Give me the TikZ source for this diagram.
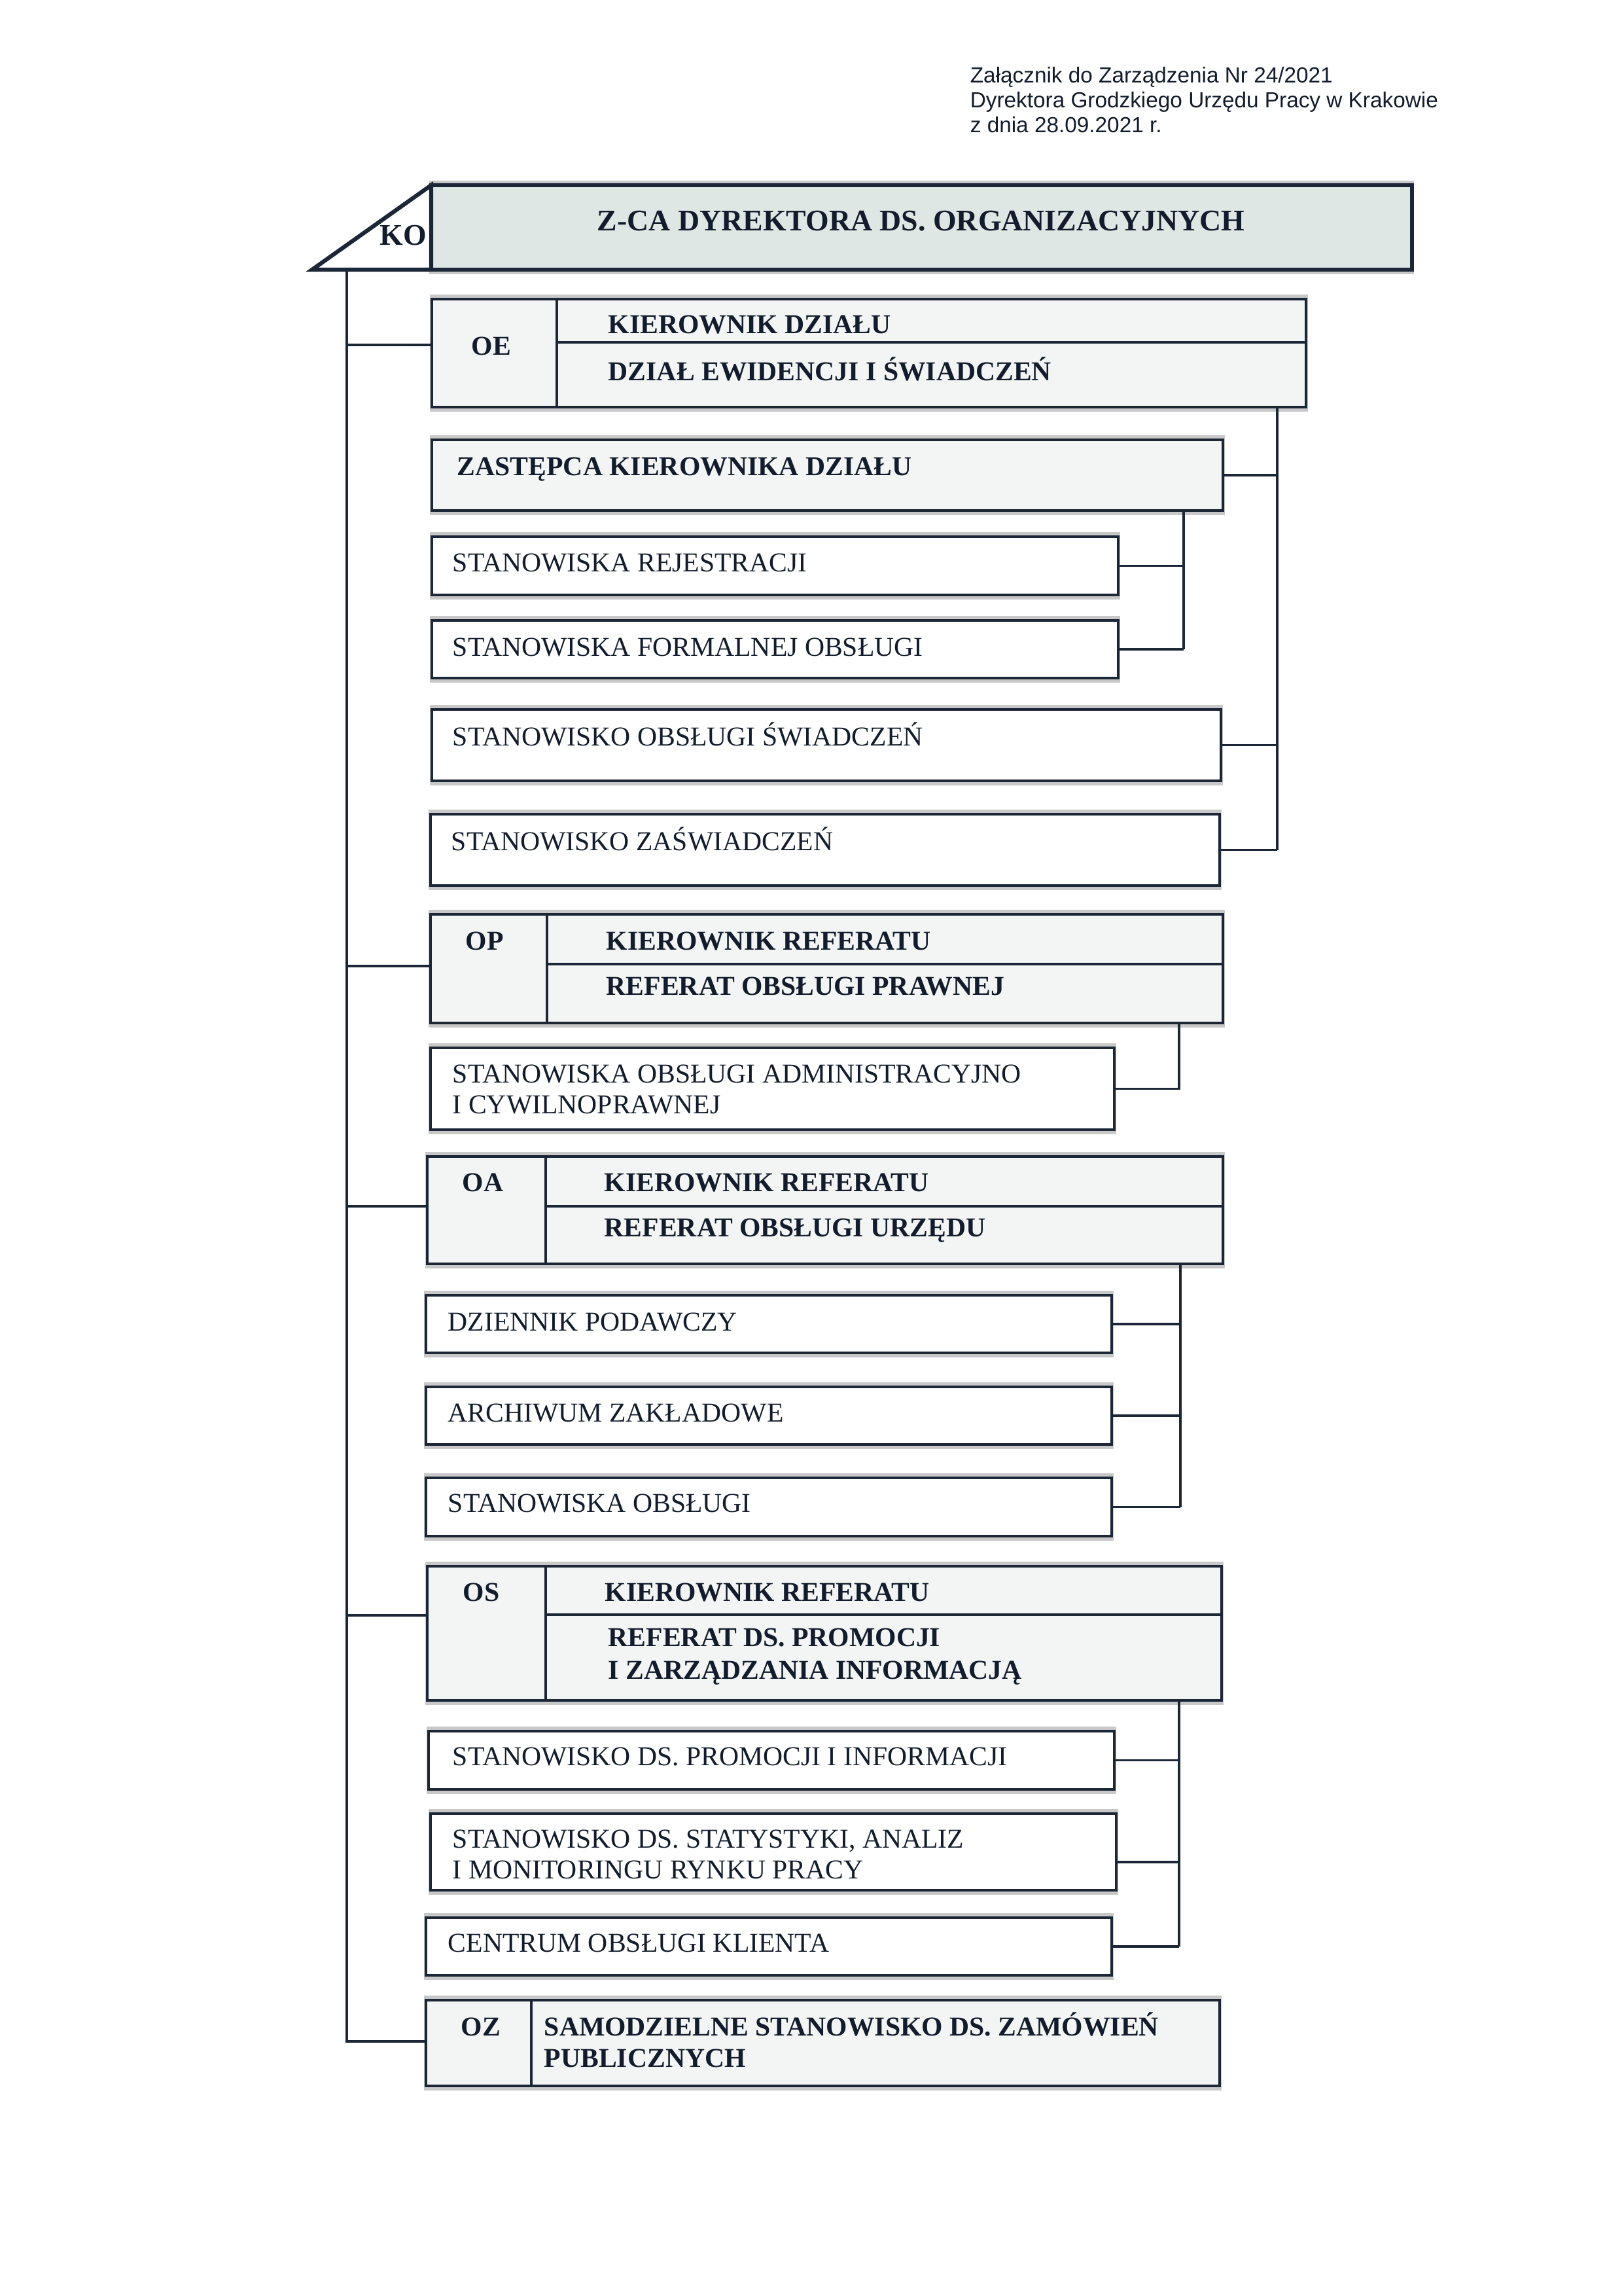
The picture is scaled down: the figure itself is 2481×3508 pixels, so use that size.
\documentclass[tikz,border=0pt]{standalone}
\usepackage{fontspec}
\setmainfont{Liberation Serif}
\newfontfamily\arialf{Liberation Sans}
\usetikzlibrary{calc}
\definecolor{lineC}{HTML}{1B2636}
\definecolor{textC}{HTML}{121C2C}
\definecolor{hdrFill}{HTML}{DFE7E4}
\definecolor{titFill}{HTML}{F3F5F4}
\definecolor{shadowC}{HTML}{C8C8C8}
\newcommand\mkbox[6]{%
  \fill[shadowC] (#3-3,#4-7) rectangle (#5+3,#6+7);
  \node[#2, minimum width={(#5-#3)*0.24pt}, minimum height={(#6-#4)*0.24pt}] (#1) at (#3,#4) {};
}
\begin{document}
\begin{tikzpicture}[x=0.24pt,y=-0.24pt,
  bx/.style={draw=lineC, line width=1pt, inner sep=0pt, outer sep=0pt, anchor=north west, fill=white},
  tbx/.style={bx, fill=titFill},
  hbx/.style={bx, fill=hdrFill, line width=1.5pt},
  conn/.style={draw=lineC, line width=0.9pt},
  divl/.style={draw=lineC, line width=0.8pt},
  tx/.style={anchor=base west, inner sep=0pt, text=textC, font=\fontsize{10}{12}\selectfont},
  btx/.style={tx, font=\fontsize{10}{12}\selectfont\bfseries},
  htx/.style={tx, font=\fontsize{11}{13}\selectfont\bfseries},
  stx/.style={tx, font=\arialf\fontsize{8}{9.24}\selectfont},
]
\useasboundingbox (0,0) rectangle (2481,3508);
\fill[white] (0,0) rectangle (2481,3508);

% header note
\node[stx] (n1) at (1482,127) {Załącznik do Zarządzenia Nr 24/2021};
\node[stx] (n2) at (1482,165) {Dyrektora Grodzkiego Urzędu Pracy w Krakowie};
\node[stx] (n3) at (1482,203) {z dnia 28.09.2021 r.};

% top box
\mkbox{hdr}{hbx}{659}{283}{2158}{412}
\filldraw[fill=white, draw=lineC, line width=1.5pt, line join=miter] (477,412) -- (659,283) -- (659,412) -- cycle;
\node[htx] (ko) at (580,375) {KO};
\node[htx] (hdrt) at (912,353) {Z-CA DYREKTORA DS. ORGANIZACYJNYCH};

% boxes
\mkbox{oe}{tbx}{660}{457}{1996}{622}
\mkbox{zast}{tbx}{660}{672}{1869}{780}
\mkbox{rej}{bx}{660}{820}{1709}{909}
\mkbox{form}{bx}{660}{948}{1709}{1036}
\mkbox{swiad}{bx}{660}{1084}{1866}{1193}
\mkbox{zasw}{bx}{658}{1244}{1864}{1353}
\mkbox{op}{tbx}{658}{1397}{1869}{1563}
\mkbox{adm}{bx}{658}{1601}{1703}{1726}
\mkbox{oa}{tbx}{653}{1767}{1869}{1931}
\mkbox{dzien}{bx}{651}{1979}{1699}{2067}
\mkbox{arch}{bx}{651}{2119}{1699}{2207}
\mkbox{obsl}{bx}{651}{2258}{1699}{2347}
\mkbox{os}{tbx}{653}{2393}{1867}{2598}
\mkbox{prom}{bx}{655}{2645}{1703}{2734}
\mkbox{stat}{bx}{658}{2771}{1706}{2888}
\mkbox{cent}{bx}{651}{2930}{1699}{3018}
\mkbox{oz}{tbx}{651}{3056}{1864}{3187}

% dividers inside titled boxes
\draw[divl] (851,457) -- (851,622);  \draw[divl] (851,523) -- (1996,523);
\draw[divl] (836,1397) -- (836,1563); \draw[divl] (836,1473) -- (1869,1473);
\draw[divl] (834,1767) -- (834,1931); \draw[divl] (834,1843) -- (1869,1843);
\draw[divl] (834,2393) -- (834,2598); \draw[divl] (834,2467) -- (1867,2467);
\draw[divl] (812,3056) -- (812,3187);

% trunk
\coordinate (trunk0) at (530,412);
\coordinate (tOE) at (530,527);
\coordinate (tOP) at (530,1476);
\coordinate (tOA) at (530,1843);
\coordinate (tOS) at (530,2468);
\coordinate (tOZ) at (530,3119);
\draw[conn, line width=1pt] (trunk0) -- (tOZ) -- (tOZ -| oz.west);
\draw[conn] (tOE) -- (tOE -| oe.west);
\draw[conn] (tOP) -- (tOP -| op.west);
\draw[conn] (tOA) -- (tOA -| oa.west);
\draw[conn] (tOS) -- (tOS -| os.west);

% OE group brackets
\coordinate (rOE) at (1952,622);
\draw[conn] (rOE) -- (rOE |- zasw.east);
\draw[conn] (zast.east) -- (zast.east -| rOE);
\draw[conn] (swiad.east) -- (swiad.east -| rOE);
\draw[conn] (zasw.east) -- (zasw.east -| rOE);
\coordinate (rZA) at (1809,780);
\draw[conn] (rZA) -- (rZA |- form.east);
\draw[conn] (rej.east) -- (rej.east -| rZA);
\draw[conn] (form.east) -- (form.east -| rZA);

% OP bracket
\coordinate (rOP) at (1802,1563);
\draw[conn] (rOP) -- (rOP |- adm.east) -- (adm.east);

% OA bracket
\coordinate (rOA) at (1804,1931);
\draw[conn] (rOA) -- (rOA |- obsl.east);
\draw[conn] (dzien.east) -- (dzien.east -| rOA);
\draw[conn] (arch.east) -- (arch.east -| rOA);
\draw[conn] (obsl.east) -- (obsl.east -| rOA);

% OS bracket
\coordinate (rOS) at (1802,2598);
\draw[conn] (rOS) -- (rOS |- cent.east);
\draw[conn] (prom.east) -- (prom.east -| rOS);
\draw[conn] ([yshift=-3.8pt]stat.east) -- ([yshift=-3.8pt]stat.east -| rOS);
\draw[conn] (cent.east) -- (cent.east -| rOS);

% texts
\node[btx] (t_oe) at (720,543) {OE};
\node[btx] (t_oe1) at (929,510) {KIEROWNIK DZIAŁU};
\node[btx] (t_oe2) at (929,582) {DZIAŁ EWIDENCJI I ŚWIADCZEŃ};
\node[btx] (t_zast) at (698,727) {ZASTĘPCA KIEROWNIKA DZIAŁU};
\node[tx] (t_rej) at (691,874) {STANOWISKA REJESTRACJI};
\node[tx] (t_form) at (691,1002) {STANOWISKA FORMALNEJ OBSŁUGI};
\node[tx] (t_swiad) at (691,1139) {STANOWISKO OBSŁUGI ŚWIADCZEŃ};
\node[tx] (t_zasw) at (689,1299) {STANOWISKO ZAŚWIADCZEŃ};
\node[btx] (t_op) at (711,1451) {OP};
\node[btx] (t_op1) at (926,1451) {KIEROWNIK REFERATU};
\node[btx] (t_op2) at (926,1520) {REFERAT OBSŁUGI PRAWNEJ};
\node[tx] (t_adm1) at (691,1654) {STANOWISKA OBSŁUGI ADMINISTRACYJNO};
\node[tx] (t_adm2) at (691,1701) {I CYWILNOPRAWNEJ};
\node[btx] (t_oa) at (706,1820) {OA};
\node[btx] (t_oa1) at (923,1820) {KIEROWNIK REFERATU};
\node[btx] (t_oa2) at (923,1889) {REFERAT OBSŁUGI URZĘDU};
\node[tx] (t_dzien) at (684,2033) {DZIENNIK PODAWCZY};
\node[tx] (t_arch) at (684,2172) {ARCHIWUM ZAKŁADOWE};
\node[tx] (t_obsl) at (684,2310) {STANOWISKA OBSŁUGI};
\node[btx] (t_os) at (707,2446) {OS};
\node[btx] (t_os1) at (924,2446) {KIEROWNIK REFERATU};
\node[btx] (t_os2) at (929,2515) {REFERAT DS. PROMOCJI};
\node[btx] (t_os3) at (929,2565) {I ZARZĄDZANIA INFORMACJĄ};
\node[tx] (t_prom) at (691,2697) {STANOWISKO DS. PROMOCJI I INFORMACJI};
\node[tx] (t_stat1) at (691,2823) {STANOWISKO DS. STATYSTYKI, ANALIZ};
\node[tx] (t_stat2) at (691,2870) {I MONITORINGU RYNKU PRACY};
\node[tx] (t_cent) at (684,2982) {CENTRUM OBSŁUGI KLIENTA};
\node[btx] (t_oz) at (704,3110) {OZ};
\node[btx] (t_oz1) at (831,3110) {SAMODZIELNE STANOWISKO DS. ZAMÓWIEŃ};
\node[btx] (t_oz2) at (831,3158) {PUBLICZNYCH};
\end{tikzpicture}
\end{document}
